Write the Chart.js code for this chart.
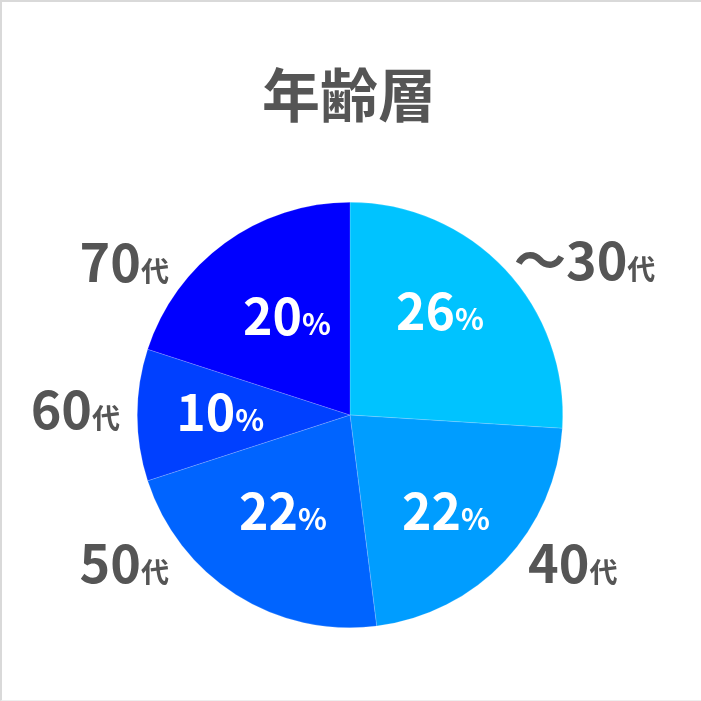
<!DOCTYPE html>
<html lang="ja">
<head>
<meta charset="utf-8">
<script src="https://cdn.jsdelivr.net/npm/chart.js@4.4.1/dist/chart.umd.min.js"></script>
<style>
  html, body { margin: 0; padding: 0; background: #fff; }
  #wrap { width: 701px; height: 701px; box-sizing: border-box; border-top: 2px solid #d9d9d9; border-left: 2px solid #d9d9d9; border-bottom: 1px solid #eeeeee; }
  canvas { display: block; }
</style>
</head>
<body>
<div id="wrap"><canvas id="chart" width="699" height="698"></canvas></div>
<script>
const title = "年齢層";
const categories = ["～30", "40", "50", "60", "70"];
const categorySuffix = "代";
const shares = [26, 22, 22, 10, 20];
const sliceColors = ["#00c3ff", "#009dff", "#0064ff", "#0040ff", "#0000ff"];

// label placement, in units of the pie radius from its centre
const outerLabelPos = [[1.103, -0.723], [1.047, 0.700], [-1.061, 0.700], [-1.291, -0.023], [-1.061, -0.714]];
const innerLabelPos = [[0.423, -0.484], [0.451, 0.455], [-0.315, 0.455], [-0.610, -0.009], [-0.296, -0.460]];

const FONT = '"Noto Sans CJK JP", "Noto Sans", sans-serif';
const GREY = "#555555";

// draws a list of [text, size] runs centred on x, sharing one baseline
function drawRuns(ctx, runs, x, baseline, color) {
  let total = 0;
  const widths = runs.map(([t, s]) => {
    ctx.font = `bold ${s}px ${FONT}`;
    const w = ctx.measureText(t).width;
    total += w;
    return w;
  });
  let cx = x - total / 2;
  ctx.fillStyle = color;
  ctx.textAlign = "left";
  ctx.textBaseline = "alphabetic";
  runs.forEach(([t, s], i) => {
    ctx.font = `bold ${s}px ${FONT}`;
    ctx.fillText(t, cx, baseline);
    cx += widths[i];
  });
}

const textPlugin = {
  id: "pieText",
  afterDatasetsDraw(chart) {
    const ctx = chart.ctx;
    const arc = chart.getDatasetMeta(0).data[0];
    const cx = arc.x, cy = arc.y, r = arc.outerRadius;
    ctx.save();

    // title
    ctx.font = `bold 58px ${FONT}`;
    ctx.fillStyle = GREY;
    ctx.textAlign = "center";
    ctx.textBaseline = "middle";
    ctx.fillText(title, cx - 1, 93);

    // category labels outside
    categories.forEach((c, i) => {
      const [ox, oy] = outerLabelPos[i];
      drawRuns(ctx, [[c, 52], [categorySuffix, 28]], cx + ox * r, cy + oy * r + 19, GREY);
    });

    // percentages inside
    shares.forEach((v, i) => {
      const [ox, oy] = innerLabelPos[i];
      drawRuns(ctx, [[String(v), 50], ["%", 30]], cx + ox * r, cy + oy * r + 18, "#ffffff");
    });
    ctx.restore();
  }
};

new Chart(document.getElementById("chart"), {
  type: "pie",
  data: {
    labels: categories.map(c => c + categorySuffix),
    datasets: [{
      data: shares,
      backgroundColor: sliceColors,
      borderColor: "rgba(255,255,255,0.35)",
      borderWidth: 0.5,
      hoverOffset: 0
    }]
  },
  options: {
    responsive: false,
    animation: false,
    layout: { padding: { left: 135, right: 138, top: 200, bottom: 72 } },
    plugins: {
      legend: { display: false },
      tooltip: { enabled: false }
    }
  },
  plugins: [textPlugin]
});
</script>
</body>
</html>
